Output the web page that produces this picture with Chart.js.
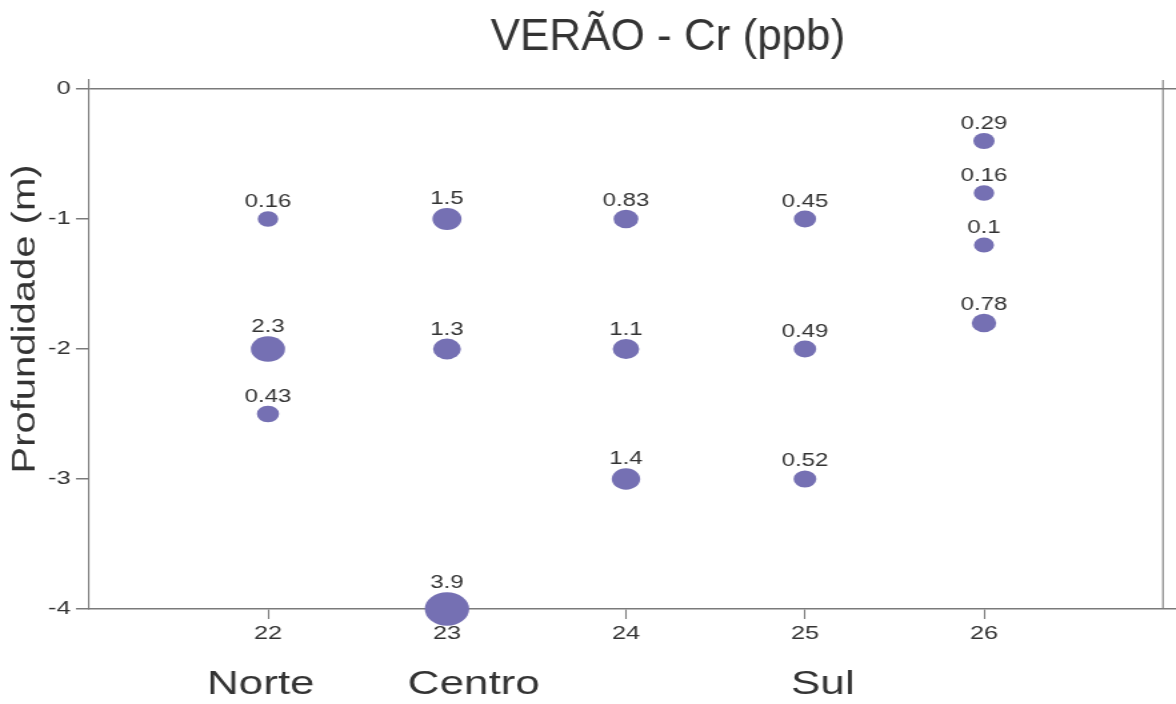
<!DOCTYPE html>
<html lang="pt">
<head>
    <meta charset="UTF-8">
    <title>VERÃO - Cr (ppb)</title>
    <script src="https://cdn.jsdelivr.net/npm/chart.js"></script>
    <style>
        html, body { margin: 0; padding: 0; background: #fff; overflow: hidden; }
        /* o gráfico original está esticado na horizontal */
        #grafico { display: block; transform: scaleX(1.33333); transform-origin: 0 0; }
    </style>
</head>
<body>
    <canvas id="grafico" width="882" height="704"></canvas>

    <script>
        // Dados
        const estacoes = [22, 22, 22, 23, 23, 23, 24, 24, 24, 25, 25, 25, 26, 26, 26, 26];
        const profundidades = [-1, -2, -2.5, -1, -2, -4, -1, -2, -3, -1, -2, -3, -0.4, -0.8, -1.2, -1.8];
        const valoresCr = [0.16, 2.3, 0.43, 1.5, 1.3, 3.9, 0.83, 1.1, 1.4, 0.45, 0.49, 0.52, 0.29, 0.16, 0.1, 0.78];
        const ticksX = [22, 23, 24, 25, 26];
        const ticksY = [0, -1, -2, -3, -4];
        const regioes = ['Norte', 'Centro', 'Sul'];
        const posRegioes = [21.96, 23.15, 25.1];

        const SX = 1.33333;           // fator do esticamento horizontal
        const cinza = '#7a7a7a';
        const texto = '#333333';
        const fonte = '"Liberation Sans", Arial, Helvetica, sans-serif';

        const pontos = estacoes.map((x, i) => ({ x: x, y: profundidades[i], r: 7.3 + 2.4 * valoresCr[i] }));

        const textos = {
            id: 'textos',
            afterDraw(chart) {
                const ctx = chart.ctx;
                const xs = chart.scales.x;
                ctx.save();
                ctx.fillStyle = texto;

                // rótulos dos valores
                ctx.font = '18px ' + fonte;
                ctx.textAlign = 'center';
                ctx.textBaseline = 'alphabetic';
                chart.getDatasetMeta(0).data.forEach((el, i) => {
                    ctx.fillText(String(valoresCr[i]), el.x, el.y - el.options.radius - 4);
                });

                // linha de referência à direita (x = 27)
                const xr = xs.getPixelForValue(27);
                ctx.strokeStyle = cinza;
                ctx.lineWidth = 1.1;
                ctx.beginPath();
                ctx.moveTo(xr, chart.chartArea.top);
                ctx.lineTo(xr, chart.chartArea.bottom);
                ctx.stroke();

                // regiões
                ctx.font = '33px ' + fonte;
                regioes.forEach((nome, i) => {
                    ctx.fillText(nome, xs.getPixelForValue(posRegioes[i]), 694);
                });

                // título (sem esticamento)
                ctx.save();
                ctx.translate(668 / SX, 50);
                ctx.scale(1 / SX, 1);
                ctx.font = '44px ' + fonte;
                ctx.fillText('VERÃO - Cr (ppb)', 0, 0);
                ctx.restore();

                // título do eixo y
                ctx.save();
                ctx.translate(34 / SX, 319);
                ctx.scale(0.58, 1);
                ctx.rotate(-Math.PI / 2);
                ctx.font = '40px ' + fonte;
                ctx.fillText('Profundidade (m)', 0, 0);
                ctx.restore();

                ctx.restore();
            }
        };

        new Chart(document.getElementById('grafico'), {
            type: 'bubble',
            data: {
                datasets: [{
                    data: pontos,
                    backgroundColor: 'rgb(117, 112, 179)',
                    borderWidth: 0,
                    hoverBorderWidth: 0,
                    clip: false
                }]
            },
            options: {
                responsive: false,
                animation: false,
                events: [],
                layout: { autoPadding: false, padding: { top: 80, left: 0, right: 0, bottom: 0 } },
                plugins: {
                    legend: { display: false },
                    tooltip: { enabled: false },
                    title: { display: false }
                },
                scales: {
                    x: {
                        type: 'linear',
                        min: 21,
                        max: 21 + 1087 / 179,
                        z: 1,
                        afterBuildTicks: (s) => { s.ticks = ticksX.map(v => ({ value: v })); },
                        afterFit: (s) => { s.height = 95; s.paddingLeft = 0; s.paddingRight = 0; },
                        grid: {
                            drawOnChartArea: false,
                            tickLength: 10,
                            tickColor: cinza,
                            tickWidth: 1.1
                        },
                        border: { display: true, color: cinza, width: 1.5 },
                        ticks: {
                            color: texto,
                            padding: 3,
                            maxRotation: 0,
                            font: { family: fonte, size: 19 },
                            callback: (v) => String(v)
                        }
                    },
                    y: {
                        type: 'linear',
                        min: -4,
                        max: 9 / 130,
                        z: 1,
                        afterBuildTicks: (s) => { s.ticks = ticksY.map(v => ({ value: v })); },
                        afterFit: (s) => { s.width = 89 / SX; s.paddingTop = 0; s.paddingBottom = 0; },
                        grid: {
                            drawOnChartArea: true,
                            color: (c) => (c.tick && c.tick.value === 0 ? cinza : 'rgba(0,0,0,0)'),
                            lineWidth: 1.5,
                            tickLength: 13 / SX,
                            tickColor: cinza,
                            tickWidth: 1.5
                        },
                        border: { display: true, color: cinza, width: 1.1 },
                        ticks: {
                            color: texto,
                            padding: 4,
                            font: { family: fonte, size: 19 },
                            callback: (v) => String(v)
                        }
                    }
                }
            },
            plugins: [textos]
        });
    </script>
</body>
</html>
